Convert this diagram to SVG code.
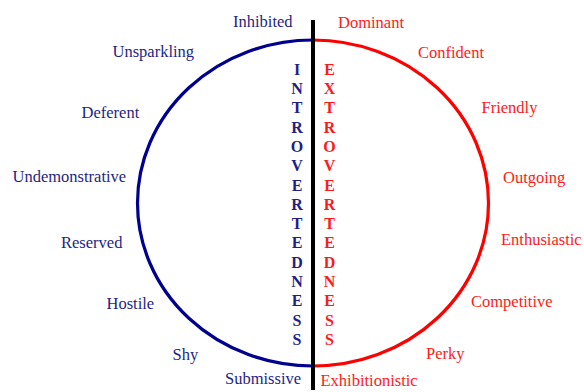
<svg xmlns="http://www.w3.org/2000/svg" width="584" height="392" viewBox="0 0 584 392">
<style>
.lb{font-family:"Liberation Serif","Times New Roman",serif;font-size:16.5px}
.b{fill:#1f1f85}
.r{fill:#ff1a1a}
.col{font-family:"Liberation Serif","Times New Roman",serif;font-size:16px;font-weight:bold;text-anchor:middle}
</style>
<rect width="584" height="392" fill="#ffffff"/>
<g id="connectors">
<path d="M313,40 A175.5,163 0 0 0 313,366" fill="none" stroke="#000090" stroke-width="3.2"/>
<path d="M313,40 A175.5,163 0 0 1 313,366" fill="none" stroke="#ff0000" stroke-width="3.2"/>
<line x1="313" y1="20" x2="313" y2="390" stroke="#000" stroke-width="4"/>
</g>
<g id="introvertedness">
<text class="col b" x="297" y="74.7">I</text>
<text class="col b" x="297" y="94">N</text>
<text class="col b" x="297" y="113.3">T</text>
<text class="col b" x="297" y="132.6">R</text>
<text class="col b" x="297" y="151.9">O</text>
<text class="col b" x="297" y="171.2">V</text>
<text class="col b" x="297" y="190.5">E</text>
<text class="col b" x="297" y="209.8">R</text>
<text class="col b" x="297" y="229.1">T</text>
<text class="col b" x="297" y="248.4">E</text>
<text class="col b" x="297" y="267.7">D</text>
<text class="col b" x="297" y="287">N</text>
<text class="col b" x="297" y="306.3">E</text>
<text class="col b" x="297" y="325.6">S</text>
<text class="col b" x="297" y="344.9">S</text>
</g>
<g id="extrovertedness">
<text class="col r" x="329.5" y="74.7">E</text>
<text class="col r" x="329.5" y="94">X</text>
<text class="col r" x="329.5" y="113.3">T</text>
<text class="col r" x="329.5" y="132.6">R</text>
<text class="col r" x="329.5" y="151.9">O</text>
<text class="col r" x="329.5" y="171.2">V</text>
<text class="col r" x="329.5" y="190.5">E</text>
<text class="col r" x="329.5" y="209.8">R</text>
<text class="col r" x="329.5" y="229.1">T</text>
<text class="col r" x="329.5" y="248.4">E</text>
<text class="col r" x="329.5" y="267.7">D</text>
<text class="col r" x="329.5" y="287">N</text>
<text class="col r" x="329.5" y="306.3">E</text>
<text class="col r" x="329.5" y="325.6">S</text>
<text class="col r" x="329.5" y="344.9">S</text>
</g>
<g id="left-labels">
<text class="lb b" x="233" y="27">Inhibited</text>
<text class="lb b" x="112.5" y="57">Unsparkling</text>
<text class="lb b" x="81.5" y="118">Deferent</text>
<text class="lb b" x="12.5" y="182">Undemonstrative</text>
<text class="lb b" x="61" y="248">Reserved</text>
<text class="lb b" x="106.5" y="309">Hostile</text>
<text class="lb b" x="172.5" y="360">Shy</text>
<text class="lb b" x="225" y="384">Submissive</text>
</g>
<g id="right-labels">
<text class="lb r" x="338" y="28">Dominant</text>
<text class="lb r" x="418" y="58">Confident</text>
<text class="lb r" x="481.5" y="113">Friendly</text>
<text class="lb r" x="503" y="183">Outgoing</text>
<text class="lb r" x="501" y="245">Enthusiastic</text>
<text class="lb r" x="471" y="307">Competitive</text>
<text class="lb r" x="426" y="359">Perky</text>
<text class="lb r" x="320.5" y="386">Exhibitionistic</text>
</g>
</svg>
